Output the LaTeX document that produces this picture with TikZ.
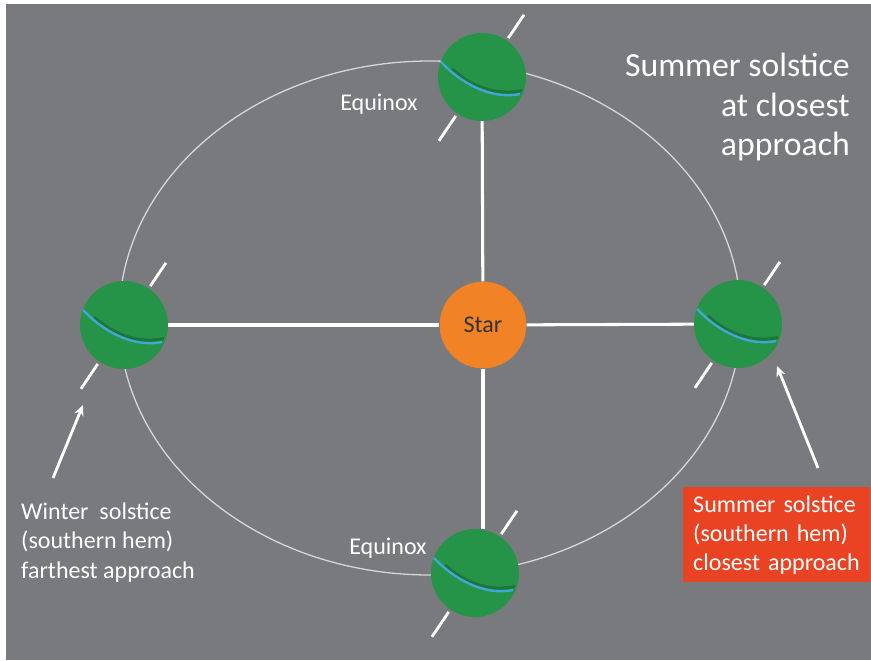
\documentclass[tikz,border=0pt]{standalone}
\usepackage{fontspec}
\setmainfont{Carlito}
\usetikzlibrary{arrows.meta}

\definecolor{slate}{RGB}{121,122,126}
\definecolor{planetgreen}{RGB}{38,148,72}
\definecolor{equblue}{RGB}{64,168,214}
\definecolor{starorange}{RGB}{241,130,38}
\definecolor{boxred}{RGB}{234,67,35}
\definecolor{orbitgray}{RGB}{215,215,215}

\begin{document}
\begin{tikzpicture}[x=0.03cm, y=-0.03cm,
      planet/.style={circle, fill=planetgreen, minimum size=2.64cm, inner sep=0},
      spoke/.style={white, line width=2.6pt},
      tilt/.style={white, line width=2.4pt},
      pointer/.style={white, line width=2.4pt, -{Stealth[length=9pt,width=8pt]}},
      caption/.style={text=white, inner sep=0, font=\fontsize{20.5}{24.8}\selectfont}]
             % frame
             \fill[white] (0,0) rectangle (871,660);
             \fill[slate] (6,4) rectangle (871,660);
             \useasboundingbox (0,0) rectangle (871,660);

             % orbit
             \draw[orbitgray, line width=1.1pt] (430,318) ellipse [x radius=311, y radius=257];

             % star and planets
             \node[circle, fill=starorange, minimum size=2.6cm, inner sep=0,
                   text=black!80, font=\fontsize{20.5}{24}\selectfont] (star) at (483,325) {Star};
             \foreach \n/\x/\y in {top/482/77, left/124/325, right/738/324, bot/475/573}
                \node[planet] (\n) at (\x,\y) {};

             \draw[spoke] (top) -- (star);
             \draw[spoke] (left) -- (star);
             \draw[spoke] (star) -- (right);
             \draw[spoke] (star) -- (star |- bot.north);

             % equator and spin axis
             \foreach \n in {top, left, right, bot} {
                \begin{scope}[shift={(\n)}]
                   \begin{scope}
                      \clip (0,0) circle (44);
                      \draw[planetgreen!55!black, line width=2.6pt, opacity=.45]
                         (-30,-8) .. controls (-10,10) and (15,19) .. (40,13.5);
                   \end{scope}
                   \draw[equblue, line width=2pt] (-41,-15) .. controls (-15,12) and (15,22) .. (38,17);
                   \draw[tilt] (0,0) ++(-56:47) -- ++(-56:28);
                   \draw[tilt] (0,0) ++(124:47) -- ++(124:30);
                \end{scope}
             }

             % labels
             \node[text=white, font=\fontsize{20.5}{24}\selectfont] (eqtop) at (379,104) {Equinox};
             \node[text=white, font=\fontsize{20.5}{24}\selectfont] (eqbot) at (388,548) {Equinox};
             \node[text=white, inner sep=0, anchor=north east, align=right,
                   font=\fontsize{28.8}{33.7}\selectfont] (note) at (850,53)
                   {Summer solstice\\at closest\\approach};
             \node[caption, anchor=north west, align=left] (winter) at (21,503)
                   {Winter \ solstice\\(southern hem)\\farthest approach};
             \node[caption, fill=boxred, anchor=north west, align=left, inner xsep=0.3cm,
                   minimum width=5.61cm, minimum height=2.85cm, text width=5.01cm] (summer) at (683,487)
                   {Summer solstice\\(southern hem)\\closest approach};

             % pointers
             \coordinate (wtail) at (53,478);
             \coordinate (wtip) at (83,405);
             \coordinate (stail) at (818,468);
             \coordinate (stip) at (777,366);
             \draw[pointer] (wtail) -- (wtip);
             \draw[pointer] (stail) -- (stip);
\end{tikzpicture}
\end{document}
